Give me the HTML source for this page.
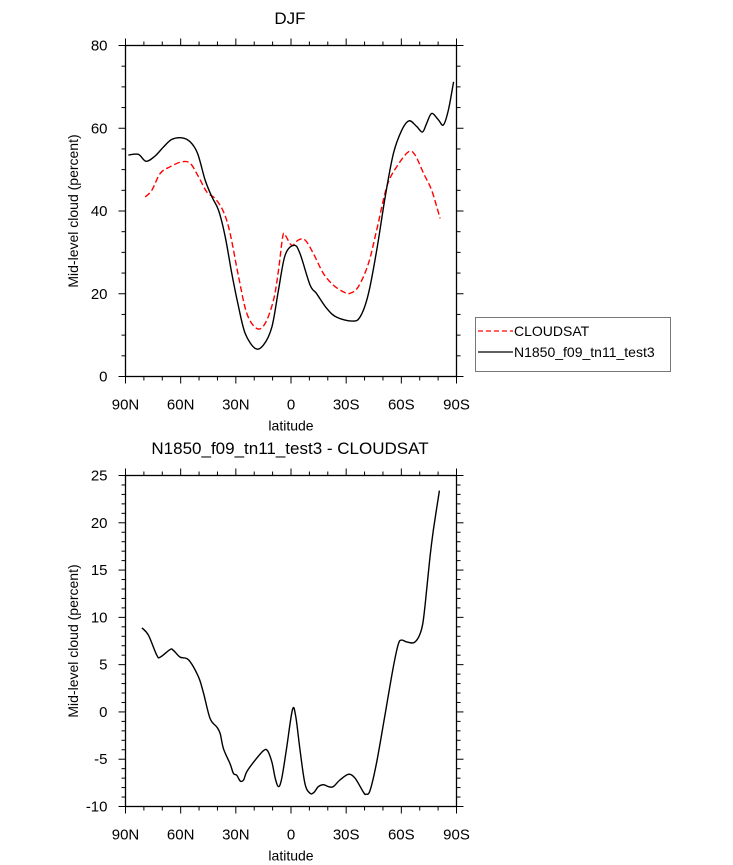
<!DOCTYPE html>
<html><head><meta charset="utf-8"><style>
html,body{margin:0;padding:0;background:#fff;}
svg{display:block;font-family:"Liberation Sans",Arial,sans-serif;}
</style></head><body>
<svg id="chart" width="733" height="865" viewBox="0 0 733 865">
<text x="290" y="24" text-anchor="middle" font-size="17">DJF</text>
<text x="290" y="454" text-anchor="middle" font-size="17">N1850_f09_tn11_test3 - CLOUDSAT</text>
<g id="top"></g>
<g id="bot"></g>
<g>
<rect x="475.5" y="317.5" width="195" height="54" fill="none" stroke="#777"/>
<line x1="478" y1="331" x2="513" y2="331" stroke="#f00" stroke-width="1.3" stroke-dasharray="5,3"/>
<text x="514" y="336" font-size="14">CLOUDSAT</text>
<line x1="478" y1="352" x2="513" y2="352" stroke="#000" stroke-width="1.3"/>
<text x="514" y="357" font-size="14">N1850_f09_tn11_test3</text>
</g>
</svg>
<script>
const modelLat=[88.4,83,78.8,73.9,69.3,64.8,59.4,54.8,50.8,46.7,43,39.4,35.8,32.2,28.5,24.9,19.5,15,10.4,6.8,3.2,-1.7,-4.9,-10.4,-14,-19.5,-24.9,-33.1,-37.6,-42.1,-46.6,-51.2,-55.7,-60.2,-64.2,-68.4,-71.5,-73.8,-76.5,-80.2,-82.9,-85.6,-88.4];
const modelVal=[53.5,53.7,52,53.3,55.5,57.3,57.7,56.7,53.9,47.5,43.4,40.2,33.8,24.9,16.8,10.4,6.8,7.6,12,20.9,29.3,31.7,29.7,22.1,20,16.4,14.3,13.4,14.4,20,30.5,43.4,53.9,59.5,61.8,60.4,59.1,61.2,63.6,62,60.8,64.4,71.2];
const obsLat=[79.3,75.7,71.1,65.7,59.4,54.8,50.3,45.8,41.2,36.7,33.1,28.5,24,18.6,14.1,9.5,6.8,4.5,3.2,-0.4,-4,-7.6,-12.2,-17.6,-23,-28.4,-32.1,-36.6,-42.1,-46.6,-52.1,-57.5,-63.9,-67.5,-72.1,-76.5,-81.1];
const obsVal=[43.4,45,49.1,50.7,51.9,51.5,48.3,44.6,43,39.8,34.6,24.1,15.2,11.6,12.8,18.5,25.7,33.8,34.2,31.7,33,33,29.7,24.9,22.1,20.5,20.1,21.7,27.3,35.4,45.9,50.7,54.3,53.5,49.1,45,38.2];
const diffLat=[81.1,77.5,73,71.1,65.7,63.9,60.3,55.7,50.3,47.6,44,40.3,38.5,36.7,33.1,31.3,29.5,27.6,25.8,24,19.5,15,12.8,10.4,8.6,6.8,5,2.3,-0.8,-2.6,-4.9,-7.6,-10.4,-12.5,-14.9,-17.6,-20.3,-23,-26.6,-31.2,-34.8,-39.4,-40.8,-43,-46.6,-51.2,-55.7,-58.4,-60.2,-62.9,-67.5,-71.1,-72.9,-75.6,-77.4,-80.7];
const diffVal=[8.9,8.1,6.0,5.8,6.6,6.5,5.8,5.5,3.7,2.0,-0.7,-1.6,-2.3,-3.9,-5.5,-6.5,-6.7,-7.3,-7.2,-6.3,-5.1,-4.1,-4.1,-5.3,-7.0,-7.9,-7.0,-3.7,0.26,-0.5,-4.0,-7.6,-8.6,-8.5,-7.9,-7.7,-7.9,-7.9,-7.2,-6.6,-7.0,-8.5,-8.7,-8.3,-5.3,-0.2,4.8,7.2,7.6,7.4,7.4,8.8,11.3,16.4,19.2,23.4];
const xTickVals=[90,60,30,0,-30,-60,-90];
const xTickLabels=["90N","60N","30N","0","30S","60S","90S"];
const topYTicks=[0,20,40,60,80];
const botYTicks=[-10,-5,0,5,10,15,20,25];

const NS="http://www.w3.org/2000/svg";
const L=125.5,R=456.5;
function mk(tag,attrs,parent){const e=document.createElementNS(NS,tag);for(const k in attrs)e.setAttribute(k,attrs[k]);parent.appendChild(e);return e;}
function xs(lat){return L+(90-lat)/180*(R-L);}
function panel(g,T,B,ymin,ymax,yTicks,minorStep,ytitle){
  const ys=v=>B-(v-ymin)/(ymax-ymin)*(B-T);
  for(let lat=90;lat>=-90;lat-=10){const x=xs(lat);const major=lat%30===0;const len=major?7:4;
    const t1=mk('line',{x1:x,y1:T,x2:x,y2:T-len,stroke:'#000','stroke-width':1},g);
    
    const t2=mk('line',{x1:x,y1:B,x2:x,y2:B+len,stroke:'#000','stroke-width':1},g);
    }
  for(let v=ymin;v<=ymax+1e-9;v+=minorStep){const y=ys(v);const major=yTicks.some(t=>Math.abs(t-v)<1e-9);const len=major?7:4;
    const a=mk('line',{x1:L,y1:y,x2:L-len,y2:y,stroke:'#000','stroke-width':1},g);
    
    const b=mk('line',{x1:R,y1:y,x2:R+len,y2:y,stroke:'#000','stroke-width':1},g);
    }
  const fr=mk('rect',{x:L,y:T,width:R-L,height:B-T,fill:'none',stroke:'#000','stroke-width':1.3},g);
  
  xTickVals.forEach((v,i)=>{const t=mk('text',{x:xs(v),y:B+33,'text-anchor':'middle','font-size':15},g);t.textContent=xTickLabels[i];
    });
  yTicks.forEach(v=>{const t=mk('text',{x:L-18,y:ys(v)+5,'text-anchor':'end','font-size':15},g);t.textContent=String(v);
    });
  const xt=mk('text',{x:(L+R)/2,y:B+54,'text-anchor':'middle','font-size':14},g);xt.textContent='latitude';
  
  const yt=mk('text',{x:0,y:0,'text-anchor':'middle','font-size':14,transform:`translate(78,${(T+B)/2}) rotate(-90)`},g);yt.textContent=ytitle;
  
  return ys;
}
function line(g,lats,vals,ys,color,dash,name){
  const pts=lats.map((la,i)=>[xs(la),ys(vals[i])]);
  let d='M'+pts[0][0].toFixed(1)+','+pts[0][1].toFixed(1);
  for(let i=0;i<pts.length-1;i++){
    const p0=pts[Math.max(0,i-1)],p1=pts[i],p2=pts[i+1],p3=pts[Math.min(pts.length-1,i+2)];
    const c1=[p1[0]+(p2[0]-p0[0])/6,p1[1]+(p2[1]-p0[1])/6],c2=[p2[0]-(p3[0]-p1[0])/6,p2[1]-(p3[1]-p1[1])/6];
    d+=' C'+c1.map(n=>n.toFixed(1)).join(',')+' '+c2.map(n=>n.toFixed(1)).join(',')+' '+p2.map(n=>n.toFixed(1)).join(',');
  }
  const p=mk('path',{d:d,fill:'none',stroke:color,'stroke-width':1.4,'stroke-linejoin':'round'},g);
  if(dash)p.setAttribute('stroke-dasharray',dash);
  
  
}
const gt=document.getElementById('top'),gb=document.getElementById('bot');
const ysT=panel(gt,45.5,376.5,0,80,topYTicks,5,'Mid-level cloud (percent)');
line(gt,obsLat,obsVal,ysT,'#f00','6,3','cloudsat-line');
line(gt,modelLat,modelVal,ysT,'#000',null,'model-line');
const ysB=panel(gb,475.5,806.5,-10,25,botYTicks,1,'Mid-level cloud (percent)');
line(gb,diffLat,diffVal,ysB,'#000',null,'difference-line');
</script>
</body></html>
